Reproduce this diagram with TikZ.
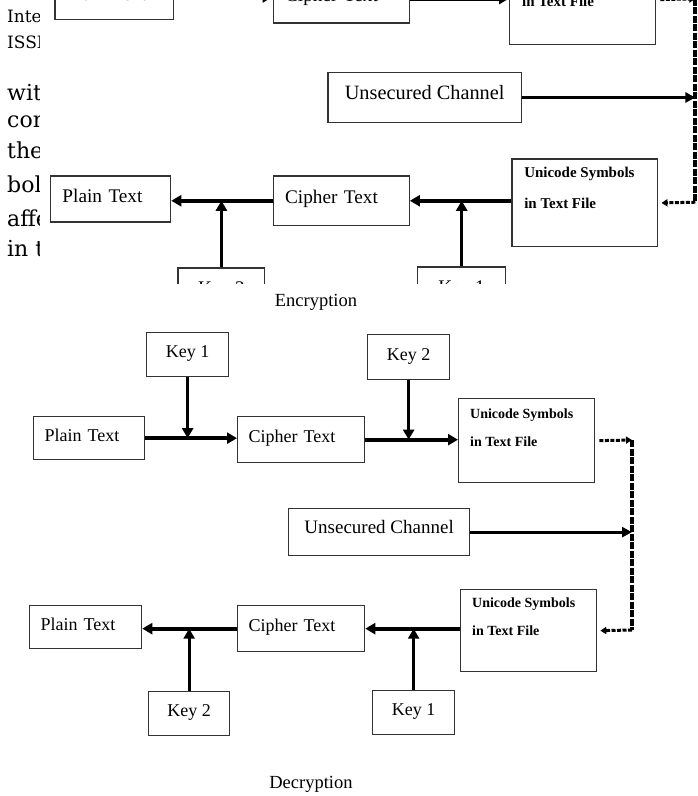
\documentclass[tikz,border=0pt]{standalone}
\usepackage{fontspec}
\setmainfont{Liberation Serif}
\newfontfamily\docfont{DejaVu Serif}
\usetikzlibrary{arrows.meta}
\definecolor{boxc}{HTML}{333333}
\tikzset{
  box/.style={draw=boxc, line width=1.3pt, anchor=north west, inner sep=0pt, text height=12pt, text depth=6pt, font=\fontsize{18}{20}\selectfont},
  lbox/.style={box, align=left, inner xsep=11pt},
  utext/.style={anchor=west, inner sep=0pt, font=\bfseries\fontsize{14}{16}\selectfont},
  arr/.style={line width=4pt, -{Triangle[length=10pt,width=11pt]}},
  keyarr/.style={line width=2.7pt, -{Triangle[length=10pt,width=11pt]}},
  uarr/.style={line width=3pt, -{Triangle[length=10pt,width=10pt]}},
  dconn/.style={line width=3pt, dash pattern=on 4pt off 1.5pt, -{Triangle[length=6pt,width=7pt]}},
  dvert/.style={line width=4pt, dash pattern=on 7pt off 1.5pt},
  doc/.style={anchor=base west, inner sep=0pt, font=\docfont\fontsize{22}{26}\selectfont},
  docs/.style={anchor=base west, inner sep=0pt, font=\docfont\fontsize{17}{20}\selectfont},
  caption/.style={inner sep=0pt, font=\fontsize{18.5}{20}\selectfont}
}
\newcommand\drawdiag[1]{%
  \node[box, minimum width=82pt, minimum height=44pt] (#1k1a) at (146,332) {Key 1};
  \node[box, minimum width=82pt, minimum height=45pt] (#1k2a) at (367,334) {Key 2};
  \node[lbox, text width=89pt, minimum height=43pt] (#1pa) at (33,416) {Plain Text};
  \node[lbox, text width=105pt, minimum height=46pt] (#1ca) at (237,416) {Cipher Text};
  \node[box, minimum width=136pt, minimum height=84pt] (#1ua) at (458,398) {};
  \node[utext] (#1ua1) at (470,415) {Unicode Symbols};
  \node[utext] (#1ua2) at (470,442) {in Text File};
  \node[box, minimum width=181pt, minimum height=47pt, text height=13pt, text depth=10pt, font=\fontsize{19}{21}\selectfont] (#1un) at (288,508) {Unsecured Channel};
  \node[box, minimum width=136pt, minimum height=82pt] (#1ub) at (460,589) {};
  \node[utext] (#1ub1) at (472,604) {Unicode Symbols};
  \node[utext] (#1ub2) at (472,631) {in Text File};
  \node[lbox, text width=105pt, minimum height=46pt] (#1cb) at (237,605) {Cipher Text};
  \node[lbox, text width=90pt, minimum height=43pt] (#1pb) at (29,605) {Plain Text};
  \node[box, minimum width=82pt, minimum height=44pt] (#1k1b) at (372,690) {Key 1};
  \node[box, minimum width=81pt, minimum height=44pt] (#1k2b) at (148,691) {Key 2};
  \coordinate (#1ja) at (632,440);
  \coordinate (#1jb) at (632,630);
  \draw[arr] (#1pa.east) -- (#1pa.east -| #1ca.west);
  \draw[keyarr] (#1k1a.south) -- (#1k1a.south |- #1pa.east);
  \draw[arr] (#1ca.east) -- (#1ca.east -| #1ua.west);
  \draw[keyarr] (#1k2a.south) -- (#1k2a.south |- #1ca.east);
  \draw[dconn] ([xshift=4pt]#1ua.east) -- (#1ja);
  \draw[dvert] (#1ja) -- (#1jb);
  \draw[dconn] (#1jb) -- ([xshift=3pt]#1ub.east);
  \draw[uarr] (#1un.east) -- (#1un.east -| #1ja);
  \draw[arr] (#1cb.east -| #1ub.west) -- (#1cb.east);
  \draw[arr] (#1cb.west) -- (#1cb.west -| #1pb.east);
  \draw[keyarr] (#1k1b.north) -- (#1k1b.north |- #1cb.east);
  \draw[keyarr] (#1k2b.north) -- (#1k2b.north |- #1cb.west);
}
\begin{document}
\begin{tikzpicture}[x=1pt,y=-1pt]
\useasboundingbox (0,0) rectangle (698,796);
\fill[white] (0,0) rectangle (698,796);
\begin{scope}
  \clip (0,0) rectangle (39.5,283);
  \node[docs] (tinte) at (7,22) {Inte};
  \node[docs] (tissn) at (7,48) {ISSN};
  \node[doc] (twith) at (7,100) {with};
  \node[doc] (tcon) at (7,127) {con};
  \node[doc] (tthe) at (7,158) {the};
  \node[doc] (tbold) at (7,192) {bold};
  \node[doc] (taffe) at (7,226) {affe};
  \node[doc] (tint) at (7,256) {in t};
\end{scope}
\begin{scope}
  \clip (42,0) rectangle (698,283);
  \begin{scope}[cm={1.07,0,0,1.07,(19pt,472pt)}, transform shape]
    \drawdiag{t}
  \end{scope}
\end{scope}
\node[caption] (enc) at (316,302) {Encryption};
\drawdiag{m}
\node[caption] (dec) at (311,784) {Decryption};
\end{tikzpicture}
\end{document}
